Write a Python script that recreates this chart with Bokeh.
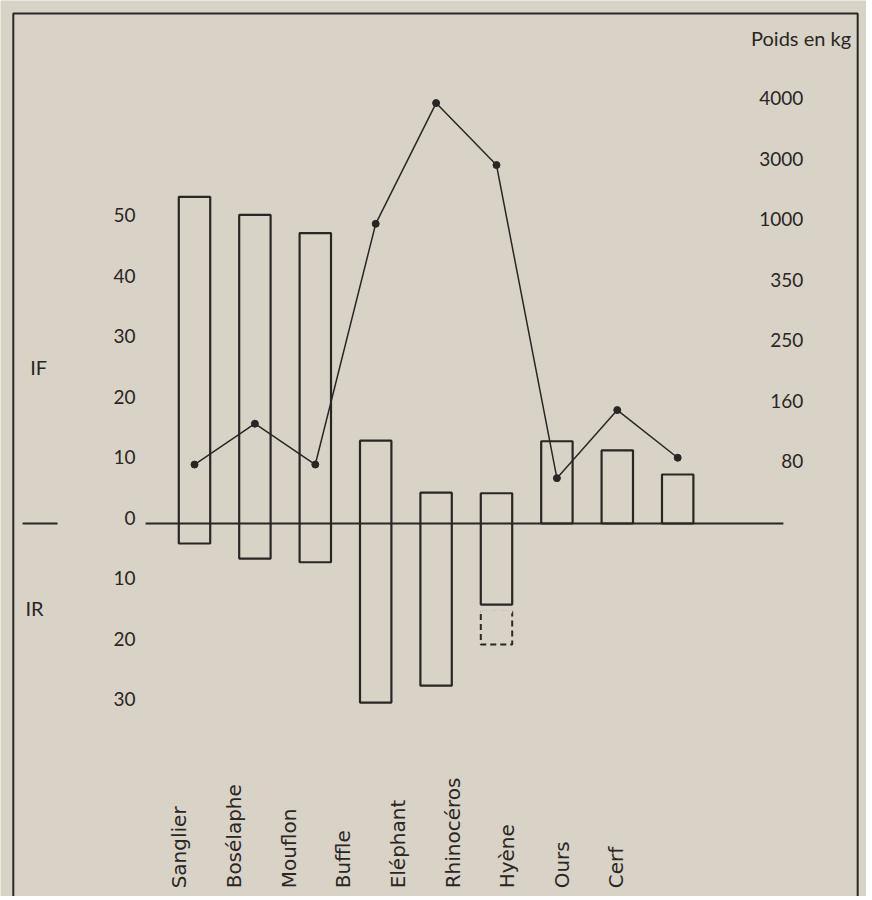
import numpy as np
from bokeh.plotting import figure
from bokeh.models import Range1d, ColumnDataSource
from bokeh.core.properties import value
from bokeh.embed import file_html
from bokeh.resources import INLINE

# ---------------- data ----------------
categories = ["Sanglier", "Bosélaphe", "Mouflon", "Buffle", "Eléphant",
              "Rhinocéros", "Hyène", "Ours", "Cerf"]
if_values = [54, 51, 48, 13.7, 5.1, 5.0, 13.6, 12.1, 8.1]       # IF (upwards)
ir_values = [3.3, 5.8, 6.4, 29.6, 26.8, 13.4, 0, 0, 0]          # IR (downwards)
ir_rhino_extension = 20.0                                       # dashed extension (Rhinocéros)
weights_kg = [78, 132, 78, 970, 3950, 2850, 60, 150, 87]        # Poids en kg

left_ticks = [50, 40, 30, 20, 10, 0, -10, -20, -30]
left_tick_labels = [str(abs(t)) for t in left_ticks]
weight_ticks = [80, 160, 250, 350, 1000, 3000, 4000]
weight_tick_labels = [str(w) for w in weight_ticks]

# ---------------- style ----------------
BG = "#d9d3c7"
INK = "#2a2624"
NUM_FONT = value("Lato")
LAB_FONT = value("DejaVu Sans")

idx = list(range(len(categories)))

# the weight axis: ordinal-like scale, each labelled weight one step of 10 units above the last
weight_pos_ticks = [10 * (k + 1) for k in range(len(weight_ticks))]
weight_pos = np.interp(weights_kg, [0] + weight_ticks, [0] + weight_pos_ticks)

p = figure(width=866, height=896,
           x_range=Range1d(-3.212, 11.126), y_range=Range1d(-61.65, 86.45),
           output_backend="svg", toolbar_location=None,
           x_axis_location=None, y_axis_location=None, min_border=0)
p.grid.visible = False
p.outline_line_color = None
p.background_fill_color = BG
p.border_fill_color = BG
p.extra_x_ranges = {"lab": Range1d(-3.278, 12.582)}

# frame (open at the bottom)
p.quad(left=-3.0, right=10.98, top=84.3, bottom=-80, fill_color=None,
       line_color=INK, line_width=2)

# bars
src = ColumnDataSource(dict(x=idx, top=if_values, bottom=[-v for v in ir_values]))
p.vbar(x="x", top="top", bottom="bottom", width=0.52, source=src,
       fill_color=None, line_color=INK, line_width=2.2)

# dashed extension of Rhinocéros
ri = categories.index("Rhinocéros")
p.vbar(x=[ri], top=[-ir_values[ri] - 1.2], bottom=[-ir_rhino_extension], width=0.52,
       fill_color=None, line_color=INK, line_width=2, line_dash="6 4")
p.segment(x0=[ri - 0.26], x1=[ri + 0.26], y0=[-ir_values[ri] - 1.2], y1=[-ir_values[ri] - 1.2],
          line_color=BG, line_width=3)

# zero line
p.segment(x0=[-0.81], x1=[9.75], y0=[0], y1=[0], line_color=INK, line_width=2)

# weight line
p.line(x=idx, y=weight_pos, line_color=INK, line_width=1.5)
p.scatter(x=idx, y=weight_pos, size=7, fill_color=INK, line_color=INK)

# left scale labels
p.text(x=-0.977, y=left_ticks, text=left_tick_labels, text_align="right",
       text_baseline="middle", y_offset=-6, text_font=NUM_FONT, text_font_size="19px",
       text_color=INK)

# right (weight) scale labels
p.text(x=10.08, y=weight_pos_ticks, text=weight_tick_labels, text_align="right",
       text_baseline="middle", y_offset=-2, text_font=NUM_FONT, text_font_size="19px",
       text_color=INK)
p.text(x=[10.87], y=[80.2], text=["Poids en kg"], text_align="right", text_baseline="middle",
       text_font=NUM_FONT, text_font_size="20px", text_color=INK)

# IF / IR marks
p.text(x=[-2.72], y=[25.8], text=["IF"], text_align="left", text_baseline="middle",
       text_font=NUM_FONT, text_font_size="20px", text_color=INK)
p.text(x=[-2.80], y=[-14.0], text=["IR"], text_align="left", text_baseline="middle",
       text_font=NUM_FONT, text_font_size="20px", text_color=INK)
p.segment(x0=[-2.846], x1=[-2.268], y0=[0], y1=[0], line_color=INK, line_width=2)

# category labels (rotated)
p.text(x=idx, y=-60.3, text=categories, angle=np.pi / 2, x_range_name="lab",
       text_align="left", text_baseline="middle", text_font=LAB_FONT,
       text_font_size="20px", text_color=INK)

open("out.html", "w").write(file_html(p, INLINE))
